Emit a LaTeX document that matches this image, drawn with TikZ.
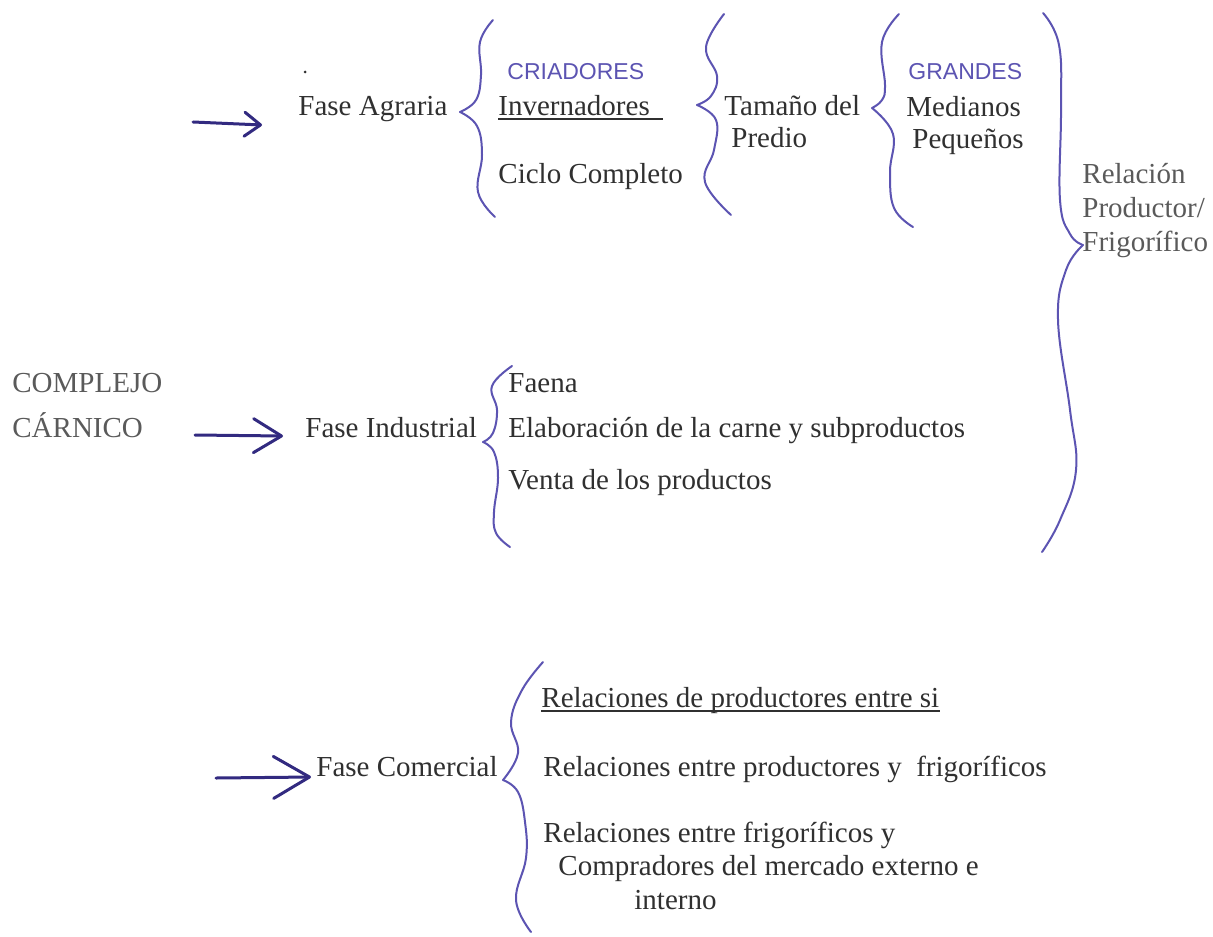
\documentclass[tikz,border=0pt]{standalone}
\usepackage{fontspec}
\setmainfont{Liberation Serif}
\setsansfont{Liberation Sans}
\usepackage{tikz}
\usetikzlibrary{arrows.meta}
\definecolor{ink}{RGB}{50,42,128}
\definecolor{braceink}{RGB}{92,84,178}
\definecolor{textgray}{RGB}{48,48,48}
\definecolor{softgray}{RGB}{90,90,90}

\begin{document}
\begin{tikzpicture}[x=0.5pt, y=-0.5pt,
    txt/.style={anchor=base west, inner sep=0pt, text=textgray, font=\fontsize{14.5}{17}\selectfont},
    soft/.style={txt, text=softgray},
    hand/.style={anchor=base west, inner sep=0pt, text=braceink, font=\sffamily\fontsize{11.5}{14}\selectfont},
    rule/.style={draw=textgray, line width=0.6pt},
    brace/.style={draw=braceink, line width=1pt, line cap=round},
    inkarrow/.style={draw=ink, line width=1.5pt, line cap=round, -{Straight Barb[round, #1]}}]

  \fill[white] (0,0) rectangle (1213,936);
  \path[use as bounding box] (0,0) rectangle (1213,936);

  \fill[textgray] (305,72) circle (1.5);

  \node[txt] (agraria) at (298,116) {Fase Agraria};
  \node[hand] (criadores) at (507,80) {CRIADORES};
  \node[txt] (invern) at (498,116) {Invernadores};
  \node[txt] (ciclo) at (498,184) {Ciclo Completo};
  \node[txt] (tamano) at (724,116) {Tamaño del};
  \node[txt] (predio) at (731,148) {Predio};
  \node[hand] (grandes) at (908,80) {GRANDES};
  \node[txt] (medianos) at (906,117) {Medianos};
  \node[txt] (pequenos) at (912,149) {Pequeños};
  \node[soft] (relacion) at (1082,184) {Relación};
  \node[soft] (productor) at (1082,217) {Productor/};
  \node[soft] (frigo) at (1082,251) {Frigorífico};

  \node[soft] (complejo) at (12,392) {COMPLEJO};
  \node[soft] (carnico) at (12,437) {CÁRNICO};
  \node[txt] (industrial) at (305,437) {Fase Industrial};
  \node[txt] (faena) at (508,392) {Faena};
  \node[txt] (elab) at (508,437) {Elaboración de la carne y subproductos};
  \node[txt] (venta) at (508,489) {Venta de los productos};

  \node[txt] (comercial) at (316,776) {Fase Comercial};
  \node[txt] (relprod) at (541,707) {Relaciones de productores entre si};
  \node[txt] (relprodfrig) at (543,776) {Relaciones entre productores y \ frigoríficos};
  \node[txt] (relfrig) at (543,842) {Relaciones entre frigoríficos y};
  \node[txt] (compr) at (558,875) {Compradores del mercado externo e};
  \node[txt] (interno) at (634,909) {interno};

  \draw[rule] ([yshift=-1.5pt]invern.base west) -- ++(165,0);
  \draw[rule] ([yshift=-2pt]relprod.base west) -- ++(399,0);

  \coordinate (a1) at (193,122);
  \coordinate (a1tip) at (262,125);
  \coordinate (a2) at (195,435);
  \coordinate (a2tip) at (283,436);
  \coordinate (a3) at (216,778);
  \coordinate (a3tip) at (311,777);
  \draw[inkarrow={length=8pt, width=12pt}] (a1) -- (a1tip);
  \draw[inkarrow={length=14pt, width=17pt}] (a2) -- (a2tip);
  \draw[inkarrow={length=18pt, width=21pt}] (a3) -- (a3tip);

  \draw[brace] plot[smooth, tension=0.7] coordinates {(493,20) (480,42) (481,75) (476,100) (460,112)};
  \draw[brace] plot[smooth, tension=0.7] coordinates {(460,112) (477,126) (482,155) (478,192) (495,217)};

  \draw[brace] plot[smooth, tension=0.7] coordinates {(724,14) (706,47) (717,76) (711,96) (697,105)};
  \draw[brace] plot[smooth, tension=0.7] coordinates {(697,105) (716,120) (714,150) (705,182) (731,215)};

  \draw[brace] plot[smooth, tension=0.7] coordinates {(899,14) (882,42) (885,85) (882,100) (872,108)};
  \draw[brace] plot[smooth, tension=0.7] coordinates {(872,108) (893,134) (890,172) (894,208) (913,227)};

  \draw[brace] plot[smooth, tension=0.7] coordinates {(1043,13) (1059,45) (1061,110) (1060,200) (1070,234) (1083,245)};
  \draw[brace] plot[smooth, tension=0.7] coordinates {(1083,245) (1066,270) (1058,320) (1070,410) (1076,470) (1060,520) (1042,552)};

  \draw[brace] plot[smooth, tension=0.7] coordinates {(512,366) (492,386) (497,410) (493,433) (483,442)};
  \draw[brace] plot[smooth, tension=0.7] coordinates {(483,442) (494,452) (498,478) (494,512) (496,533) (510,547)};

  \draw[brace] plot[smooth, tension=0.7] coordinates {(543,662) (522,690) (511,722) (518,753) (503,780)};
  \draw[brace] plot[smooth, tension=0.7] coordinates {(503,780) (518,792) (525,822) (526,858) (516,900) (531,932)};

\end{tikzpicture}
\end{document}
